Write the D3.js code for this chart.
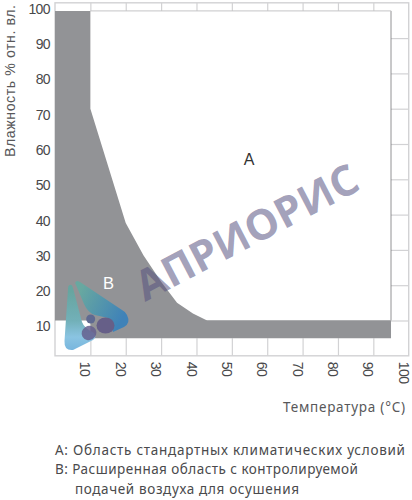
<!DOCTYPE html>
<html><head><meta charset="utf-8">
<script src="https://cdn.jsdelivr.net/npm/d3@7/dist/d3.min.js"></script>
<style>html,body{margin:0;background:#fff}svg{display:block}</style></head>
<body><svg id="c" width="412" height="500"></svg>
<script>
const xTicks=[10,20,30,40,50,60,70,80,90,100];
const yTicks=[10,20,30,40,50,60,70,80,90,100];
const regionT=[0,10,10,20,25,30,34.5,39,43,95,95,10,10,0];
const regionH=[97.7,97.7,70,37.6,28.5,21,15,12,10,10,5,5,10,10];
const legendLines=["A: Область стандартных климатических условий","B: Расширенная область с контролируемой","подачей воздуха для осушения"];
const xTitle="Температура (°C)",yTitle="Влажность % отн. вл.",watermark="АПРИОРИС";

const svg=d3.select("#c");
const x=d3.scaleLinear().domain([0,100]).range([55,408.7]);
const y=d3.scaleLinear().domain([0,100]).range([355.8,2.8]);
const sans="Liberation Sans, Arial, sans-serif", grid="#d2d2d4";

// outer frame
svg.append("rect").attr("x",x(0)).attr("y",y(100)).attr("width",x(100)-x(0)).attr("height",y(0)-y(100))
  .attr("fill","#fff").attr("stroke",grid).attr("stroke-width",1.4);

// margin grid drawn from axes
const gridAxis=(g)=>{g.select(".domain").remove();g.selectAll("text").remove();g.selectAll("line").attr("stroke",grid).attr("stroke-width",1.2);};
svg.append("g").attr("transform",`translate(0,${y(0)})`).call(d3.axisTop(x).tickValues(xTicks.slice(0,-1)).tickSize(y(0)-y(5))).call(gridAxis);
svg.append("g").attr("transform",`translate(0,${y(100)})`).call(d3.axisBottom(x).tickValues(xTicks.slice(0,-1)).tickSize(y(97.7)-y(100))).call(gridAxis);
svg.append("g").attr("transform",`translate(${x(100)},0)`).call(d3.axisLeft(y).tickValues(yTicks.slice(0,-1)).tickSize(x(100)-x(95))).call(gridAxis);

// plot border
svg.append("line").attr("x1",x(95)).attr("x2",x(95)).attr("y1",y(97.7)).attr("y2",y(10)).attr("stroke","#77777a").attr("stroke-width",.8);
svg.append("line").attr("x1",x(10)).attr("x2",x(95)).attr("y1",y(97.7)).attr("y2",y(97.7)).attr("stroke","#c4c4c6").attr("stroke-width",1);
svg.append("line").attr("x1",x(10)).attr("x2",x(95)).attr("y1",y(10)).attr("y2",y(10)).attr("stroke","#c4c4c6").attr("stroke-width",1.2);

// region B
const area=d3.line().x(d=>x(d[0])).y(d=>y(d[1]));
svg.append("path").attr("d",area(d3.zip(regionT,regionH))+"Z").attr("fill","#929396");

// tick labels
const xAx=svg.append("g").attr("transform",`translate(0,${y(0)})`).call(d3.axisBottom(x).tickValues(xTicks).tickSize(0).tickFormat(d3.format("d")));
xAx.select(".domain").remove();
xAx.selectAll("text").attr("transform","translate(-5.5,6) rotate(90)").attr("x",0).attr("y",0).attr("dy",".35em")
  .attr("text-anchor","start").attr("font-family",sans).attr("font-size",14).attr("letter-spacing",-.6).attr("fill","#48484a");
const yAx=svg.append("g").attr("transform",`translate(${x(0)},0)`).call(d3.axisLeft(y).tickValues(yTicks).tickSize(0).tickFormat(d3.format("d")));
yAx.select(".domain").remove();
yAx.selectAll("text").attr("x",-5).attr("y",5.5).attr("dy",".35em").attr("font-family",sans).attr("font-size",14).attr("letter-spacing",-.6).attr("fill","#48484a");

// axis titles
svg.append("text").attr("transform","translate(15,157) rotate(-90)").attr("font-family",sans).attr("font-size",14.2).attr("textLength",152).attr("fill","#58585a").text(yTitle);
svg.append("text").attr("x",283).attr("y",412).attr("font-family","Noto Sans, sans-serif").attr("font-size",13.5).attr("textLength",122).attr("fill","#58585a").text(xTitle);

// region labels
svg.append("text").attr("x",249).attr("y",165).attr("text-anchor","middle").attr("font-family",sans).attr("font-size",16).attr("fill","#333").text("A");
svg.append("text").attr("x",108.5).attr("y",289).attr("text-anchor","middle").attr("font-family",sans).attr("font-size",16.5).attr("fill","#fff").text("B");

// legend
const lx=[55,55,75],ly=[455,474,494],ll=[350,303,224];
svg.selectAll(".lg").data(legendLines).join("text").attr("x",(d,i)=>lx[i]).attr("y",(d,i)=>ly[i])
  .attr("font-family","Noto Sans, sans-serif").attr("font-size",13.5).attr("textLength",(d,i)=>ll[i]).attr("fill","#4a4a4c").text(d=>d);

// logo + watermark
const defs=svg.append("defs");
const g1=defs.append("linearGradient").attr("id","g1").attr("x1",0).attr("y1",0).attr("x2",0).attr("y2",1);
g1.append("stop").attr("offset",.1).attr("stop-color","#67a5a0");g1.append("stop").attr("offset",.55).attr("stop-color","#72b0b8");g1.append("stop").attr("offset",.8).attr("stop-color","#8ac4e2");g1.append("stop").attr("offset",1).attr("stop-color","#78b6de");
const g2=defs.append("linearGradient").attr("id","g2").attr("x1",0).attr("y1",0).attr("x2",1).attr("y2",.5);
g2.append("stop").attr("offset",.15).attr("stop-color","#68a8a0");g2.append("stop").attr("offset",1).attr("stop-color","#3f82b8");
svg.append("path").attr("d","M70,285 Q68,285 68,289 L64.5,341 Q64,351 73,350 L93,340 Q97,337 94,333 Q84,328 82,322 L73,288 Q72,284 70,285Z").attr("fill","url(#g1)");
svg.append("path").attr("d","M77,281 Q74,282 76,285 L84,304 Q88,313 95,315 L108,318 L113,332 L124,327 Q131,323 127,315 Q126,312 122,310 L80,282 Q78,281 77,281Z").attr("fill","url(#g2)");
svg.append("circle").attr("cx",90.7).attr("cy",319).attr("r",4.5).attr("fill","#5f6a91");
svg.append("ellipse").attr("cx",105.5).attr("cy",325.5).attr("rx",9).attr("ry",8).attr("fill","#665f88");
svg.append("ellipse").attr("cx",89).attr("cy",333).attr("rx",7.5).attr("ry",7).attr("transform","rotate(-30 89 333)").attr("fill","#655f8e").attr("fill-opacity",.85);
svg.append("text").attr("transform","translate(145,302) rotate(-27.5)").attr("font-family","Open Sans, sans-serif").attr("font-weight",700).attr("font-size",42)
  .attr("textLength",245).attr("lengthAdjust","spacingAndGlyphs").attr("fill","#55507f").attr("fill-opacity",.55).text(watermark);
</script></body></html>
